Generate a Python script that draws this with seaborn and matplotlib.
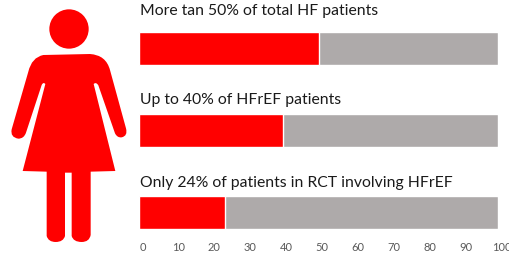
import numpy as np
import pandas as pd
import matplotlib
matplotlib.use("Agg")
import matplotlib.pyplot as plt
from matplotlib.patches import Circle, PathPatch
from matplotlib.path import Path
from matplotlib.transforms import ScaledTranslation
import seaborn as sns

# data
titles = ["More tan 50% of total HF patients",
          "Up to 40% of HFrEF patients",
          "Only 24% of patients in RCT involving HFrEF"]
women = [50, 40, 24]
total = [100, 100, 100]
ticks = [0, 10, 20, 30, 40, 50, 60, 70, 80, 90, 100]
# caption height above each bar, in points
caption_offset = [26.6, 22.0, 21.4]

sns.set_theme(style="white")
plt.rcParams["font.family"] = ["Lato", "DejaVu Sans"]

W, H = 510, 257
fig = plt.figure(figsize=(W / 100, H / 100), dpi=100)
ax = fig.add_axes([139 / W, 1 - 229 / H, (498 - 139) / W, (229 - 32) / H])

df = pd.DataFrame({"title": titles, "women": women, "total": total})
sns.barplot(data=df, x="total", y="title", color="#aeaaaa", width=0.4,
            saturation=1, ax=ax)
sns.barplot(data=df, x="women", y="title", color="#ff0000", width=0.4,
            saturation=1, ax=ax)

ax.set_xlim(0, 100)
ax.set_ylim(2.2, -0.2)
ax.set_xlabel("")
ax.set_ylabel("")
ax.set_yticks([])
ax.set_xticks(ticks)
ax.tick_params(axis="x", length=0, pad=9.5, labelsize=8, labelcolor="#595959")
sns.despine(ax=ax, left=True, bottom=True)

# tick labels sit a bit right of the bar scale in the original
shift = ScaledTranslation(3.5 / 100, 0, fig.dpi_scale_trans)
for lab in ax.get_xticklabels():
    lab.set_transform(lab.get_transform() + shift)

# bar captions sit above each bar
for i, t in enumerate(titles):
    ax.annotate(t, xy=(0, i), xytext=(1, caption_offset[i]),
                textcoords="offset points", fontsize=11.3, color="#1a1a1a",
                va="center", ha="left", annotation_clip=False)

# woman pictogram, in pixel coords of the zoomed picture (3x)
pic = fig.add_axes([0, 0, 1, 1], zorder=-1)
pic.set_xlim(0, W * 3)
pic.set_ylim(H * 3, 0)
pic.axis("off")
pic.add_patch(Circle((207, 87), 59, color="#ff0000", lw=0))

L, C = Path.LINETO, Path.CURVE3
outline = [
    ((130, 165), Path.MOVETO),
    ((95, 172), C), ((85, 215), C),          # left shoulder
    ((35, 388), L),
    ((30, 412), C), ((55, 416), C),          # left hand
    ((72, 416), C), ((78, 398), C),
    ((125, 255), L),
    ((130, 245), C), ((136, 252), C),        # left armpit
    ((68, 513), L), ((140, 515), L),
    ((140, 708), L),
    ((145, 726), C), ((167, 726), C),        # left foot
    ((190, 726), C), ((195, 708), C),
    ((195, 518), L), ((215, 518), L),
    ((215, 708), L),
    ((220, 726), C), ((245, 726), C),        # right foot
    ((268, 726), C), ((272, 705), C),
    ((272, 515), L), ((346, 513), L),
    ((281, 252), L),
    ((288, 245), C), ((295, 256), C),        # right armpit
    ((345, 400), L),
    ((352, 414), C), ((365, 412), C),        # right hand
    ((384, 408), C), ((378, 385), C),
    ((330, 210), L),
    ((318, 165), C), ((270, 162), C),        # right shoulder
    ((130, 165), L),
]
verts = [p for p, _ in outline]
codes = [c for _, c in outline]
pic.add_patch(PathPatch(Path(verts, codes), color="#ff0000", lw=0))

plt.savefig("out.png", dpi=100)
